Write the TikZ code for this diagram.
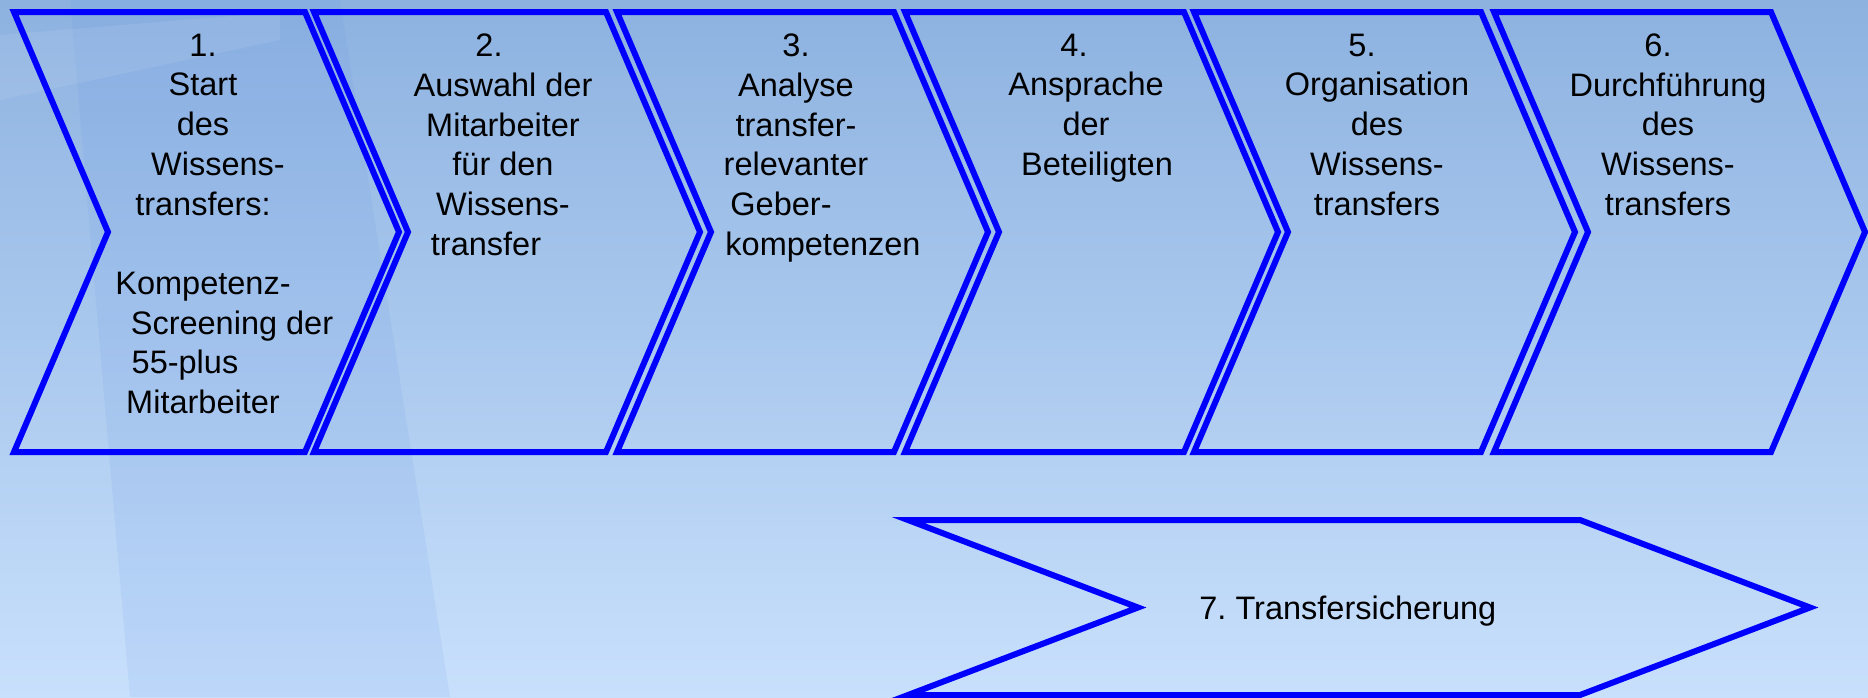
\documentclass[tikz,border=0pt]{standalone}
\usepackage{fontspec}
\setmainfont{Liberation Sans}
\definecolor{bgtop}{RGB}{141,178,224}
\definecolor{bgbot}{RGB}{200,224,252}
\definecolor{bgband}{RGB}{90,140,230}
\definecolor{chevblue}{RGB}{0,0,255}
\begin{document}
\frenchspacing
\begin{tikzpicture}[x=0.5pt,y=-0.5pt,
    chev/.style={draw=chevblue,line width=3pt,line join=miter},
    lbl/.style={anchor=north,align=center,inner sep=0pt,font=\fontsize{16.25pt}{19.85pt}\selectfont}]
    \useasboundingbox (0,0) rectangle (1868,697);
    \shade[top color=bgtop,bottom color=bgbot] (0,0) rectangle (1868,697);
    \fill[bgband,opacity=.1] (70,0) -- (340,0) -- (450,697) -- (130,697) -- cycle;
    \fill[white,opacity=.08] (0,35) -- (280,12) -- (280,40) -- (0,100) -- cycle;
    \draw[chev] (14,12) -- ++(291,0) -- ++(94,220) -- ++(-94,220) -- ++(-291,0) -- ++(94,-220) -- cycle;
    \draw[chev] (314,12) -- ++(292,0) -- ++(94,220) -- ++(-94,220) -- ++(-292,0) -- ++(94,-220) -- cycle;
    \draw[chev] (617,12) -- ++(277,0) -- ++(94,220) -- ++(-94,220) -- ++(-277,0) -- ++(94,-220) -- cycle;
    \draw[chev] (905,12) -- ++(279,0) -- ++(94,220) -- ++(-94,220) -- ++(-279,0) -- ++(94,-220) -- cycle;
    \draw[chev] (1194,12) -- ++(287,0) -- ++(94,220) -- ++(-94,220) -- ++(-287,0) -- ++(94,-220) -- cycle;
    \draw[chev] (1494,12) -- ++(277,0) -- ++(94,220) -- ++(-94,220) -- ++(-277,0) -- ++(94,-220) -- cycle;
    \draw[chev] (908,520) -- ++(672,0) -- ++(230,87.5) -- ++(-230,87.5) -- ++(-672,0) -- ++(230,-87.5) -- cycle;
    \node[lbl] (s1) at (203,33.5) {1.\\Start\\des\\\hspace*{15pt}Wissens-\\transfers:\\[19.85pt]Kompetenz-\\\hspace*{29pt}Screening der\\\hspace*{-18pt}55-plus\\Mitarbeiter};
    \node[lbl] (s2) at (503,33.5) {\hspace*{-14pt}2.\\Auswahl der\\Mitarbeiter\\für den\\Wissens-\\\hspace*{-17pt}transfer};
    \node[lbl] (s3) at (796,33.5) {3.\\Analyse\\transfer-\\relevanter\\\hspace*{-15pt}Geber-\\\hspace*{27pt}kompetenzen};
    \node[lbl] (s4) at (1086,33.5) {\hspace*{-12pt}4.\\Ansprache\\der\\\hspace*{11pt}Beteiligten};
    \node[lbl] (s5) at (1377,33.5) {\hspace*{-15pt}5.\\Organisation\\des\\Wissens-\\transfers};
    \node[lbl] (s6) at (1668,33.5) {\hspace*{-10pt}6.\\Durchführung\\des\\Wissens-\\transfers};
    \node[lbl,anchor=base west] (s7) at (1199,619.5) {7. Transfersicherung};
\end{tikzpicture}
\end{document}
